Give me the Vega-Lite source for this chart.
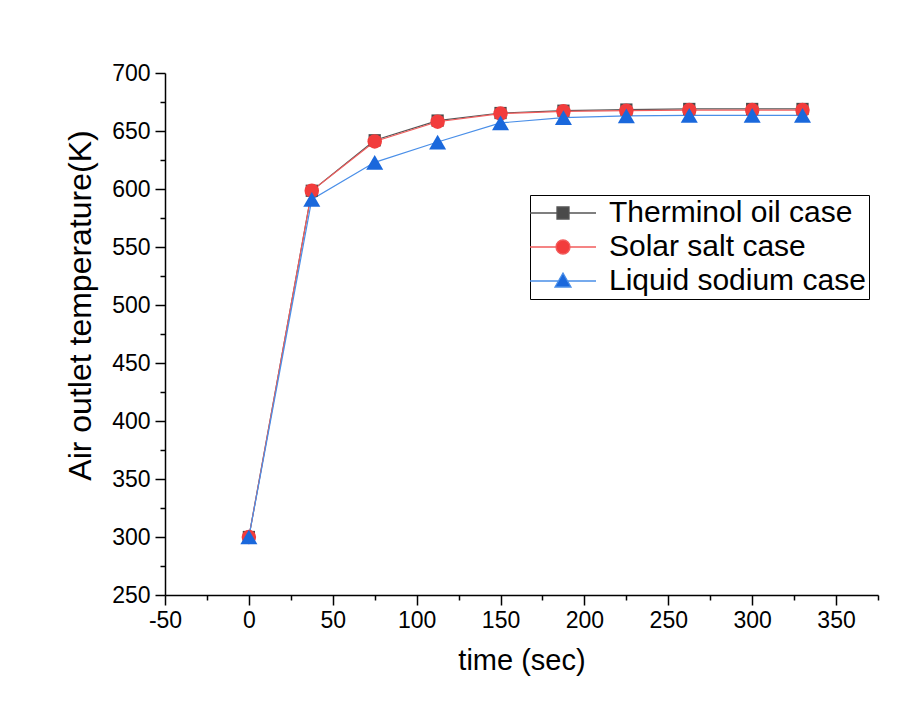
{
  "$schema": "https://vega.github.io/schema/vega-lite/v6.json",
  "width": 713,
  "height": 522,
  "autosize": {"type": "none"},
  "padding": {"left": 165, "top": 73, "right": 44, "bottom": 130},
  "background": "white",
  "config": {
    "view": {"stroke": null},
    "font": "Liberation Sans",
    "axis": {
      "domainColor": "black", "domainWidth": 1.5, "tickColor": "black", "tickWidth": 1.5,
      "labelColor": "black", "titleColor": "black", "labelFont": "Liberation Sans",
      "titleFont": "Liberation Sans", "titleFontWeight": "normal", "labelFontSize": 23,
      "grid": false
    },
    "legend": {
      "orient": "none", "legendX": 365, "legendY": 122, "symbolOpacity": 1, "symbolSize": 400,
      "symbolStrokeWidth": 1.3, "labelFontSize": 30, "labelFont": "Liberation Sans", "labelColor": "black",
      "labelOffset": 46, "labelLimit": 600, "rowPadding": 4, "strokeColor": "black", "fillColor": "white", "padding": 3
    }
  },
  "data": {
    "values": [
      {"time": 0, "temp": 300, "series": "Therminol oil case"},
      {"time": 37.5, "temp": 598.5, "series": "Therminol oil case"},
      {"time": 75, "temp": 642, "series": "Therminol oil case"},
      {"time": 112.5, "temp": 659, "series": "Therminol oil case"},
      {"time": 150, "temp": 665.5, "series": "Therminol oil case"},
      {"time": 187.5, "temp": 667.5, "series": "Therminol oil case"},
      {"time": 225, "temp": 668.5, "series": "Therminol oil case"},
      {"time": 262.5, "temp": 669, "series": "Therminol oil case"},
      {"time": 300, "temp": 669, "series": "Therminol oil case"},
      {"time": 330, "temp": 669, "series": "Therminol oil case"},
      {"time": 0, "temp": 300, "series": "Solar salt case"},
      {"time": 37.5, "temp": 598.5, "series": "Solar salt case"},
      {"time": 75, "temp": 641, "series": "Solar salt case"},
      {"time": 112.5, "temp": 658, "series": "Solar salt case"},
      {"time": 150, "temp": 665, "series": "Solar salt case"},
      {"time": 187.5, "temp": 667, "series": "Solar salt case"},
      {"time": 225, "temp": 667.5, "series": "Solar salt case"},
      {"time": 262.5, "temp": 668, "series": "Solar salt case"},
      {"time": 300, "temp": 668, "series": "Solar salt case"},
      {"time": 330, "temp": 668, "series": "Solar salt case"},
      {"time": 0, "temp": 300, "series": "Liquid sodium case"},
      {"time": 37.5, "temp": 591, "series": "Liquid sodium case"},
      {"time": 75, "temp": 623, "series": "Liquid sodium case"},
      {"time": 112.5, "temp": 640.5, "series": "Liquid sodium case"},
      {"time": 150, "temp": 657, "series": "Liquid sodium case"},
      {"time": 187.5, "temp": 661.5, "series": "Liquid sodium case"},
      {"time": 225, "temp": 663, "series": "Liquid sodium case"},
      {"time": 262.5, "temp": 663.5, "series": "Liquid sodium case"},
      {"time": 300, "temp": 663.5, "series": "Liquid sodium case"},
      {"time": 330, "temp": 663.5, "series": "Liquid sodium case"}
    ]
  },
  "encoding": {
    "x": {
      "field": "time", "type": "quantitative",
      "scale": {"domain": [-50, 375], "nice": false, "zero": false},
      "axis": {
        "title": "time (sec)", "titleFontSize": 29,
        "values": [-50, -25, 0, 25, 50, 75, 100, 125, 150, 175, 200, 225, 250, 275, 300, 325, 350, 375],
        "labelExpr": "datum.value % 50 === 0 ? replace(datum.label, '\u2212', '-') : ''",
        "tickSize": {"condition": {"test": "datum.value % 50 !== 0", "value": 5}, "value": 10},
        "labelPadding": 4, "titlePadding": 14, "labelFlush": false, "labelOverlap": false
      }
    },
    "y": {
      "field": "temp", "type": "quantitative",
      "scale": {"domain": [250, 700], "nice": false, "zero": false},
      "axis": {
        "title": "Air outlet temperature(K)", "titleFontSize": 32, "titleY": 232,
        "values": [250, 275, 300, 325, 350, 375, 400, 425, 450, 475, 500, 525, 550, 575, 600, 625, 650, 675, 700],
        "labelExpr": "datum.value % 50 === 0 ? datum.label : ''",
        "tickSize": {"condition": {"test": "datum.value % 50 !== 0", "value": 5}, "value": 10},
        "labelPadding": 5, "titlePadding": 14, "labelFlush": false, "labelOverlap": false
      }
    }
  },
  "layer": [
    {
      "mark": {"type": "line", "strokeWidth": 1.2},
      "encoding": {
        "stroke": {
          "field": "series", "type": "nominal",
          "scale": {"domain": ["Therminol oil case", "Solar salt case", "Liquid sodium case"], "range": ["#555555", "#f25c5c", "#4a8fe8"]},
          "legend": {"title": null}
        },
        "detail": {"field": "series"}
      }
    },
    {
      "transform": [{"filter": "datum.series === 'Therminol oil case'"}],
      "mark": {"type": "point", "filled": true, "opacity": 1, "shape": "square", "size": 150, "color": "#4a4a4a"}
    },
    {
      "transform": [{"filter": "datum.series === 'Solar salt case'"}],
      "mark": {"type": "point", "filled": true, "opacity": 1, "shape": "circle", "size": 210, "color": "#f23c3c"}
    },
    {
      "transform": [{"filter": "datum.series === 'Liquid sodium case'"}],
      "mark": {"type": "point", "filled": true, "opacity": 1, "shape": "triangle-up", "size": 290, "color": "#1a68dc"}
    },
    {
      "mark": {"type": "point", "filled": true, "opacity": 0},
      "encoding": {
        "color": {
          "field": "series", "type": "nominal",
          "scale": {"domain": ["Therminol oil case", "Solar salt case", "Liquid sodium case"], "range": ["#4a4a4a", "#f23c3c", "#1a68dc"]},
          "legend": {"title": null}
        },
        "stroke": {
          "field": "series", "type": "nominal",
          "legend": {"title": null}
        },
        "shape": {
          "field": "series", "type": "nominal",
          "scale": {"domain": ["Therminol oil case", "Solar salt case", "Liquid sodium case"], "range": ["M-1.8,0H0.9M2.1,0H4.8M0.9,-0.6H2.1V0.6H0.9Z", "M-1.8,0H0.8M2.2,0H4.8M2.2,0C2.2,0.387,1.887,0.7,1.5,0.7C1.113,0.7,0.8,0.387,0.8,0C0.8,-0.387,1.113,-0.7,1.5,-0.7C1.887,-0.7,2.2,-0.387,2.2,0Z", "M-1.8,0H1.05M1.95,0H4.8M1.5,-0.8L2.3,0.6L0.7,0.6Z"]},
          "legend": {"title": null}
        }
      }
    }
  ]
}
